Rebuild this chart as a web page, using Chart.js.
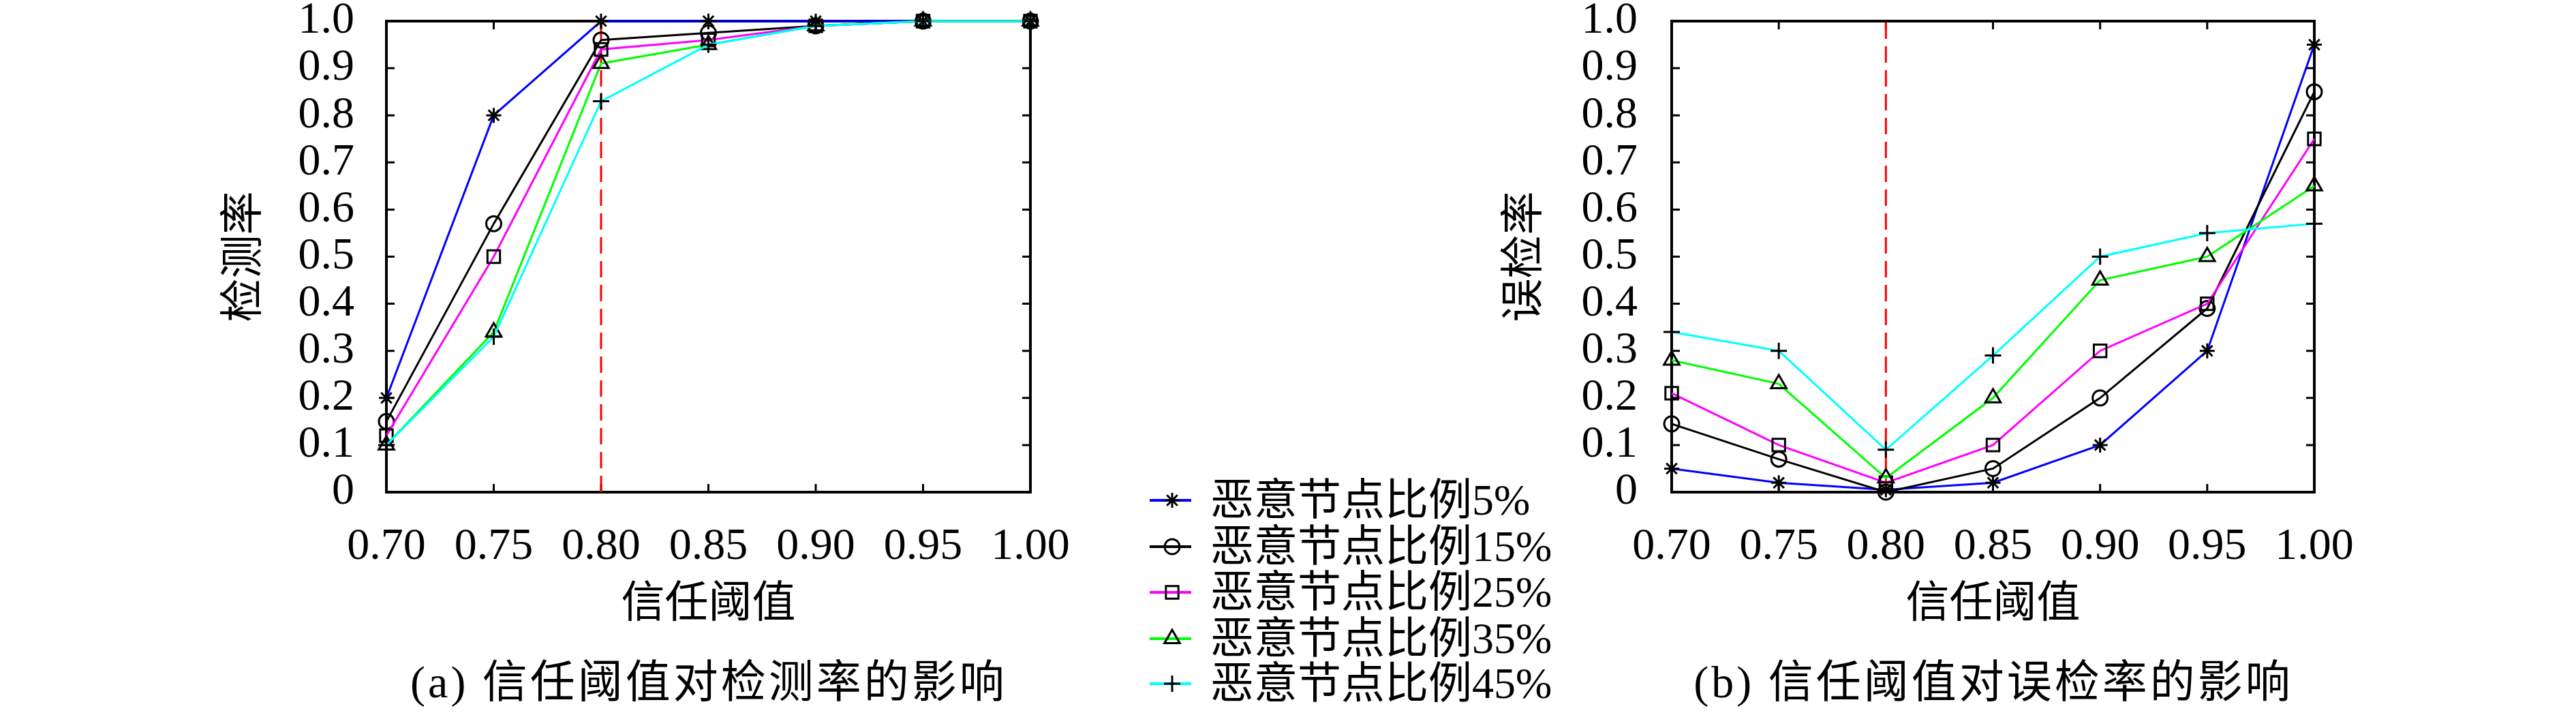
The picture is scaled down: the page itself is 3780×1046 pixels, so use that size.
<!DOCTYPE html>
<html>
<head>
<meta charset="utf-8">
<script src="https://cdn.jsdelivr.net/npm/chart.js@4.4.1/dist/chart.umd.min.js"></script>
<style>
  body { margin: 0; width: 3780px; height: 1046px; background: #fff; position: relative; overflow: hidden; }
  canvas { position: absolute; top: 0; }
  .txt { position: absolute; font-family: 'Liberation Serif', 'Noto Sans CJK SC', serif; color: #000; white-space: nowrap; }
  .caption { font-size: 66px; line-height: 66px; letter-spacing: 4px; transform: translateX(-50%); }
  .legend-row { position: absolute; left: 1687px; height: 60px; width: 700px; }
  .legend-row canvas { position: absolute; left: 0; top: 0; }
  .legend-row span { position: absolute; left: 89px; top: 0; font-family: 'Liberation Serif', 'Noto Sans CJK SC', serif;
                     font-size: 64px; line-height: 60px; white-space: nowrap; color: #000; }
</style>
</head>
<body>
<canvas id="detectChart" width="1700" height="1046" style="left:0"></canvas>
<canvas id="falseChart" width="1880" height="1046" style="left:1900px"></canvas>
<div id="legend"></div>
<div class="txt caption" style="left:1040px; top:968px">(a) 信任阈值对检测率的影响</div>
<div class="txt caption" style="left:2925px; top:968px">(b) 信任阈值对误检率的影响</div>

<script>
// x categories (trust threshold)
const thresholds = ['0.70', '0.75', '0.80', '0.85', '0.90', '0.95', '1.00'];
const chosenThreshold = '0.80';

// y ticks
const yTickValues = [0, 0.1, 0.2, 0.3, 0.4, 0.5, 0.6, 0.7, 0.8, 0.9, 1.0];
const yTickLabels = ['0', '0.1', '0.2', '0.3', '0.4', '0.5', '0.6', '0.7', '0.8', '0.9', '1.0'];

const seriesLabels = ['恶意节点比例5%', '恶意节点比例15%', '恶意节点比例25%', '恶意节点比例35%', '恶意节点比例45%'];
const seriesColors = ['#0000ff', '#000000', '#ff00ff', '#00ff00', '#00ffff'];
const seriesMarkers = ['star', 'circle', 'rect', 'triangle', 'cross'];
const markerSizes = [11, 11, 13, 13, 12];

// (a) detection rate
const detect5  = [0.20, 0.80, 1.00, 1.00, 1.00, 1.00, 1.00];
const detect15 = [0.15, 0.57, 0.96, 0.975, 0.99, 1.00, 1.00];
const detect25 = [0.12, 0.50, 0.94, 0.96, 0.99, 1.00, 1.00];
const detect35 = [0.10, 0.34, 0.91, 0.95, 0.99, 1.00, 1.00];
const detect45 = [0.10, 0.33, 0.83, 0.95, 0.99, 1.00, 1.00];

// (b) false detection rate
const falseDet5  = [0.05, 0.02, 0.005, 0.02, 0.10, 0.30, 0.95];
const falseDet15 = [0.145, 0.07, 0.00, 0.05, 0.20, 0.39, 0.85];
const falseDet25 = [0.21, 0.10, 0.02, 0.10, 0.30, 0.40, 0.75];
const falseDet35 = [0.28, 0.23, 0.03, 0.20, 0.45, 0.50, 0.65];
const falseDet45 = [0.34, 0.30, 0.09, 0.29, 0.50, 0.55, 0.57];

const serifFont = "'Liberation Serif', 'Noto Sans CJK SC', serif";

// box round the plot with inward ticks on all four sides
const framePlugin = {
    id: 'frame',
    beforeDatasetsDraw(chart) {
        const { ctx, chartArea: a } = chart;
        const x = chart.scales.x, y = chart.scales.y;
        ctx.save();
        ctx.strokeStyle = '#000';
        ctx.lineWidth = 3;
        ctx.beginPath();
        x.ticks.forEach((t, i) => {
            const px = x.getPixelForTick(i);
            ctx.moveTo(px, a.bottom); ctx.lineTo(px, a.bottom - 12);
            ctx.moveTo(px, a.top); ctx.lineTo(px, a.top + 12);
        });
        y.ticks.forEach((t, i) => {
            const py = y.getPixelForTick(i);
            ctx.moveTo(a.left, py); ctx.lineTo(a.left + 12, py);
            ctx.moveTo(a.right, py); ctx.lineTo(a.right - 12, py);
        });
        ctx.stroke();
        ctx.lineWidth = 4;
        ctx.strokeRect(a.left, a.top, a.right - a.left, a.bottom - a.top);
        ctx.restore();
    }
};

function buildChart(canvasId, seriesData, yTitle, geom) {
    const datasets = seriesData.map((values, i) => ({
        label: seriesLabels[i],
        data: values,
        borderColor: seriesColors[i],
        borderWidth: 3,
        pointStyle: seriesMarkers[i],
        pointRadius: markerSizes[i],
        pointBorderColor: '#000',
        pointBackgroundColor: 'rgba(0,0,0,0)',
        pointBorderWidth: 3,
        tension: 0,
        clip: false,
        order: seriesData.length - i
    }));
    // dashed marker line at the chosen threshold
    datasets.push({
        label: 'threshold',
        data: [{ x: chosenThreshold, y: yTickValues[0] }, { x: chosenThreshold, y: yTickValues[yTickValues.length - 1] }],
        borderColor: '#ff0000',
        borderWidth: 3,
        borderDash: [24, 11],
        pointRadius: 0,
        order: 20
    });

    return new Chart(document.getElementById(canvasId).getContext('2d'), {
        type: 'line',
        data: { labels: thresholds, datasets: datasets },
        options: {
            responsive: false,
            animation: false,
            devicePixelRatio: 1,
            layout: { padding: geom.padding },
            plugins: { legend: { display: false }, tooltip: { enabled: false } },
            scales: {
                x: {
                    type: 'category',
                    offset: false,
                    grid: { display: false, drawTicks: false },
                    border: { display: false },
                    ticks: { color: '#000', padding: 41, maxRotation: 0, autoSkip: false,
                             font: { family: serifFont, size: 66 } },
                    title: { display: true, text: '信任阈值', color: '#000',
                             padding: { top: 0, bottom: 0 },
                             font: { family: serifFont, size: 64 } },
                    afterFit: (scale) => { scale.height = 205; scale.paddingLeft = 0; scale.paddingRight = 0; }
                },
                y: {
                    type: 'linear',
                    min: yTickValues[0],
                    max: yTickValues[yTickValues.length - 1],
                    grid: { display: false, drawTicks: false },
                    border: { display: false },
                    afterBuildTicks: (scale) => { scale.ticks = yTickValues.map(v => ({ value: v })); },
                    ticks: { color: '#000', padding: geom.yTickPad, autoSkip: false,
                             font: { family: serifFont, size: 66 },
                             callback: (v, i) => yTickLabels[i] },
                    title: { display: true, text: yTitle, color: '#000',
                             padding: { top: geom.yTitlePad, bottom: 0 },
                             font: { family: serifFont, size: 64 } },
                    afterFit: (scale) => { scale.width = geom.yWidth; scale.paddingTop = 0; scale.paddingBottom = 0; }
                }
            }
        },
        plugins: [framePlugin]
    });
}

buildChart('detectChart', [detect5, detect15, detect25, detect35, detect45], '检测率',
    { padding: { left: 300, top: 31, right: 188, bottom: 119 }, yWidth: 267, yTickPad: 47, yTitlePad: 22 });
buildChart('falseChart', [falseDet5, falseDet15, falseDet25, falseDet35, falseDet45], '误检率',
    { padding: { left: 280, top: 31, right: 384, bottom: 119 }, yWidth: 273, yTickPad: 50, yTitlePad: 21 });

// legend between the two plots
const legendRowTops = [704, 772, 839, 907, 973];
const legendEl = document.getElementById('legend');
seriesLabels.forEach((label, i) => {
    const row = document.createElement('div');
    row.className = 'legend-row';
    row.style.top = legendRowTops[i] + 'px';
    const c = document.createElement('canvas');
    c.width = 64; c.height = 60;
    const ctx = c.getContext('2d');
    ctx.strokeStyle = seriesColors[i];
    ctx.lineWidth = 4;
    ctx.beginPath(); ctx.moveTo(0, 30); ctx.lineTo(61, 30); ctx.stroke();
    ctx.strokeStyle = '#000';
    ctx.fillStyle = 'rgba(0,0,0,0)';
    ctx.lineWidth = 3;
    Chart.helpers.drawPoint(ctx, { pointStyle: seriesMarkers[i], radius: markerSizes[i], borderWidth: 3, rotation: 0 }, 33, 30);
    const span = document.createElement('span');
    span.textContent = label;
    row.appendChild(c);
    row.appendChild(span);
    legendEl.appendChild(row);
});
</script>
</body>
</html>
